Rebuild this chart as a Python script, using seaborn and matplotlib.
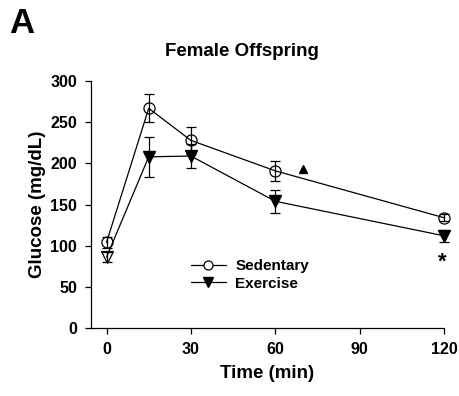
import matplotlib
matplotlib.use("Agg")
import matplotlib.pyplot as plt
import seaborn as sns
import pandas as pd
from matplotlib.lines import Line2D

sns.set_theme(style="ticks")
plt.rcParams["font.family"] = ["Liberation Sans", "DejaVu Sans"]
plt.rcParams["font.weight"] = "bold"
plt.rcParams["text.color"] = "black"
plt.rcParams["axes.labelcolor"] = "black"
plt.rcParams["xtick.color"] = "black"
plt.rcParams["ytick.color"] = "black"

time_min = [0, 15, 30, 60, 120]
sedentary_mean = [104, 267, 228, 191, 134]
sedentary_sem = [7, 17, 16, 12, 4]
exercise_mean = [86, 208, 209, 154, 112]
exercise_sem = [6, 24, 15, 14, 7]

df = pd.DataFrame({
    "Time": time_min * 2,
    "Glucose": sedentary_mean + exercise_mean,
    "Group": ["Sedentary"] * 5 + ["Exercise"] * 5,
})

fig = plt.figure(figsize=(4.6, 3.96), dpi=100)
ax = fig.add_axes([0.198, 0.172, 0.767, 0.623])

# error bars first so markers sit on top
for mean, sem in [(sedentary_mean, sedentary_sem), (exercise_mean, exercise_sem)]:
    eb = ax.errorbar(time_min, mean, yerr=sem, fmt="none", ecolor="black",
                     elinewidth=0.9, capsize=3.5, capthick=0.9, zorder=2)
    for art in eb.lines[1] + eb.lines[2]:
        art.set_clip_on(False)

sns.lineplot(data=df, x="Time", y="Glucose", hue="Group",
             palette={"Sedentary": "black", "Exercise": "black"},
             linewidth=0.9, ax=ax, legend=False, zorder=3)
for line in ax.get_lines():
    line.set_clip_on(False)

# markers: open circles for sedentary, filled triangles for exercise
ax.plot(time_min, sedentary_mean, linestyle="none", marker="o", markersize=8,
        markerfacecolor="none", markeredgecolor="black", markeredgewidth=0.9,
        zorder=4, clip_on=False)
ax.plot(time_min[1:], exercise_mean[1:], linestyle="none", marker="v",
        markersize=8, color="black", zorder=4, clip_on=False)
ax.plot(time_min[:1], exercise_mean[:1], linestyle="none", marker="v",
        markersize=8, markerfacecolor="none", markeredgecolor="black",
        markeredgewidth=0.9, zorder=4)

# significance markers
ax.plot([70], [193], marker="^", color="black", markersize=6, linestyle="none")
ax.text(119.5, 80, "*", ha="center", va="center", fontsize=16, fontweight="bold")

# legend
handles = [
    Line2D([], [], color="black", lw=0.9, marker="o", markersize=6.5,
           markerfacecolor="white", markeredgecolor="black", markeredgewidth=0.9),
    Line2D([], [], color="black", lw=0.9, marker="v", markersize=6.5),
]
ax.legend(handles, ["Sedentary", "Exercise"], loc="center", bbox_to_anchor=(0.45, 0.215),
          frameon=False, handlelength=2.3, handletextpad=0.6,
          labelspacing=0.25, prop={"weight": "bold", "size": 11})

ax.set_xlim(-5.5, 120)
ax.set_ylim(0, 300)
ax.set_xticks([0, 30, 60, 90, 120])
ax.set_yticks([0, 50, 100, 150, 200, 250, 300])
ax.tick_params(direction="out", length=4, width=0.9, labelsize=11.5, pad=6)
for lab in ax.get_xticklabels() + ax.get_yticklabels():
    lab.set_fontweight("bold")
ax.set_xlabel("Time (min)", fontsize=13.5, fontweight="bold", labelpad=6)
ax.set_ylabel("Glucose (mg/dL)", fontsize=13.5, fontweight="bold", labelpad=3)
for s in ["top", "right"]:
    ax.spines[s].set_visible(False)
for s in ["left", "bottom"]:
    ax.spines[s].set_linewidth(0.9)
    ax.spines[s].set_color("black")

fig.text(0.527, 0.87, "Female Offspring", ha="center", va="center",
         fontsize=13.5, fontweight="bold")
fig.text(0.02, 0.94, "A", ha="left", va="center", fontsize=25, fontweight="bold")

fig.savefig("out.png", dpi=100, facecolor="white")
